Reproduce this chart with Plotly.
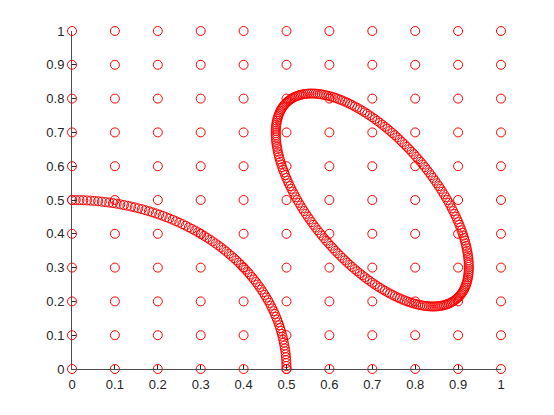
import plotly.graph_objects as go

# Regular grid of sample points (tick values)
grid_vals = [0, 0.1, 0.2, 0.3, 0.4, 0.5, 0.6, 0.7, 0.8, 0.9, 1.0]
tick_vals = [0, 0.1, 0.2, 0.3, 0.4, 0.5, 0.6, 0.7, 0.8, 0.9, 1.0]
tick_text = ["0", "0.1", "0.2", "0.3", "0.4", "0.5", "0.6", "0.7", "0.8", "0.9", "1"]

# Quarter-circle arc points
arc_x = [0.5000, 0.4999, 0.4997, 0.4993, 0.4988, 0.4981, 0.4973, 0.4963, 0.4951, 0.4938,
         0.4924, 0.4908, 0.4891, 0.4872, 0.4851, 0.4830, 0.4806, 0.4782, 0.4755, 0.4728,
         0.4698, 0.4668, 0.4636, 0.4603, 0.4568, 0.4532, 0.4494, 0.4455, 0.4415, 0.4373,
         0.4330, 0.4286, 0.4240, 0.4193, 0.4145, 0.4096, 0.4045, 0.3993, 0.3940, 0.3886,
         0.3830, 0.3774, 0.3716, 0.3657, 0.3597, 0.3536, 0.3473, 0.3410, 0.3346, 0.3280,
         0.3214, 0.3147, 0.3078, 0.3009, 0.2939, 0.2868, 0.2796, 0.2723, 0.2650, 0.2575,
         0.2500, 0.2424, 0.2347, 0.2270, 0.2192, 0.2113, 0.2034, 0.1954, 0.1873, 0.1792,
         0.1710, 0.1628, 0.1545, 0.1462, 0.1378, 0.1294, 0.1210, 0.1125, 0.1040, 0.0954,
         0.0868, 0.0782, 0.0696, 0.0609, 0.0523, 0.0436, 0.0349, 0.0262, 0.0175, 0.0087,
         0.0000]
arc_y = [0.0000, 0.0087, 0.0175, 0.0262, 0.0349, 0.0436, 0.0523, 0.0609, 0.0696, 0.0782,
         0.0868, 0.0954, 0.1040, 0.1125, 0.1210, 0.1294, 0.1378, 0.1462, 0.1545, 0.1628,
         0.1710, 0.1792, 0.1873, 0.1954, 0.2034, 0.2113, 0.2192, 0.2270, 0.2347, 0.2424,
         0.2500, 0.2575, 0.2650, 0.2723, 0.2796, 0.2868, 0.2939, 0.3009, 0.3078, 0.3147,
         0.3214, 0.3280, 0.3346, 0.3410, 0.3473, 0.3536, 0.3597, 0.3657, 0.3716, 0.3774,
         0.3830, 0.3886, 0.3940, 0.3993, 0.4045, 0.4096, 0.4145, 0.4193, 0.4240, 0.4286,
         0.4330, 0.4373, 0.4415, 0.4455, 0.4494, 0.4532, 0.4568, 0.4603, 0.4636, 0.4668,
         0.4698, 0.4728, 0.4755, 0.4782, 0.4806, 0.4830, 0.4851, 0.4872, 0.4891, 0.4908,
         0.4924, 0.4938, 0.4951, 0.4963, 0.4973, 0.4981, 0.4988, 0.4993, 0.4997, 0.4999,
         0.5000]

# Tilted ellipse points
ell_x = [0.9250, 0.9247, 0.9238, 0.9222, 0.9201, 0.9173, 0.9140, 0.9101, 0.9055, 0.9005,
         0.8949, 0.8887, 0.8820, 0.8748, 0.8672, 0.8591, 0.8505, 0.8416, 0.8323, 0.8225,
         0.8125, 0.8022, 0.7915, 0.7806, 0.7695, 0.7582, 0.7468, 0.7352, 0.7235, 0.7118,
         0.7000, 0.6882, 0.6765, 0.6648, 0.6532, 0.6418, 0.6305, 0.6194, 0.6085, 0.5978,
         0.5875, 0.5775, 0.5677, 0.5584, 0.5495, 0.5409, 0.5328, 0.5252, 0.5180, 0.5113,
         0.5051, 0.4995, 0.4945, 0.4899, 0.4860, 0.4827, 0.4799, 0.4778, 0.4762, 0.4753,
         0.4750, 0.4753, 0.4762, 0.4778, 0.4799, 0.4827, 0.4860, 0.4899, 0.4945, 0.4995,
         0.5051, 0.5113, 0.5180, 0.5252, 0.5328, 0.5409, 0.5495, 0.5584, 0.5677, 0.5775,
         0.5875, 0.5978, 0.6085, 0.6194, 0.6305, 0.6418, 0.6532, 0.6648, 0.6765, 0.6882,
         0.7000, 0.7118, 0.7235, 0.7352, 0.7468, 0.7582, 0.7695, 0.7806, 0.7915, 0.8022,
         0.8125, 0.8225, 0.8323, 0.8416, 0.8505, 0.8591, 0.8672, 0.8748, 0.8820, 0.8887,
         0.8949, 0.9005, 0.9055, 0.9101, 0.9140, 0.9173, 0.9201, 0.9222, 0.9238, 0.9247,
         0.9249, 0.9243, 0.9231, 0.9212, 0.9188, 0.9157, 0.9121, 0.9079, 0.9031, 0.8977,
         0.8918, 0.8854, 0.8785, 0.8711, 0.8632, 0.8549, 0.8461, 0.8370, 0.8274, 0.8176,
         0.8074, 0.7969, 0.7861, 0.7751, 0.7639, 0.7525, 0.7410, 0.7294, 0.7177, 0.7059,
         0.6941, 0.6823, 0.6706, 0.6590, 0.6475, 0.6361, 0.6249, 0.6139, 0.6031, 0.5926,
         0.5824, 0.5726, 0.5630, 0.5539, 0.5451, 0.5368, 0.5289, 0.5215, 0.5146, 0.5082,
         0.5023, 0.4969, 0.4921, 0.4879, 0.4843, 0.4812, 0.4788, 0.4769, 0.4757, 0.4751,
         0.4751, 0.4757, 0.4769, 0.4788, 0.4812, 0.4843, 0.4879, 0.4921, 0.4969, 0.5023,
         0.5082, 0.5146, 0.5215, 0.5289, 0.5368, 0.5451, 0.5539, 0.5630, 0.5726, 0.5824,
         0.5926, 0.6031, 0.6139, 0.6249, 0.6361, 0.6475, 0.6590, 0.6706, 0.6823, 0.6941,
         0.7059, 0.7177, 0.7294, 0.7410, 0.7525, 0.7639, 0.7751, 0.7861, 0.7969, 0.8074,
         0.8176, 0.8274, 0.8370, 0.8461, 0.8549, 0.8632, 0.8711, 0.8785, 0.8854, 0.8918,
         0.8977, 0.9031, 0.9079, 0.9121, 0.9157, 0.9188, 0.9212, 0.9231, 0.9243, 0.9249]
ell_y = [0.3018, 0.3148, 0.3285, 0.3425, 0.3570, 0.3719, 0.3871, 0.4027, 0.4185, 0.4345,
         0.4507, 0.4671, 0.4835, 0.5000, 0.5165, 0.5329, 0.5493, 0.5655, 0.5815, 0.5973,
         0.6129, 0.6281, 0.6430, 0.6575, 0.6715, 0.6852, 0.6982, 0.7108, 0.7227, 0.7341,
         0.7448, 0.7548, 0.7642, 0.7728, 0.7807, 0.7878, 0.7941, 0.7996, 0.8043, 0.8081,
         0.8111, 0.8133, 0.8146, 0.8150, 0.8146, 0.8133, 0.8111, 0.8081, 0.8043, 0.7996,
         0.7941, 0.7878, 0.7807, 0.7728, 0.7642, 0.7548, 0.7448, 0.7341, 0.7227, 0.7108,
         0.6982, 0.6852, 0.6715, 0.6575, 0.6430, 0.6281, 0.6129, 0.5973, 0.5815, 0.5655,
         0.5493, 0.5329, 0.5165, 0.5000, 0.4835, 0.4671, 0.4507, 0.4345, 0.4185, 0.4027,
         0.3871, 0.3719, 0.3570, 0.3425, 0.3285, 0.3148, 0.3018, 0.2892, 0.2773, 0.2659,
         0.2552, 0.2452, 0.2358, 0.2272, 0.2193, 0.2122, 0.2059, 0.2004, 0.1957, 0.1919,
         0.1889, 0.1867, 0.1854, 0.1850, 0.1854, 0.1867, 0.1889, 0.1919, 0.1957, 0.2004,
         0.2059, 0.2122, 0.2193, 0.2272, 0.2358, 0.2452, 0.2552, 0.2659, 0.2773, 0.2892,
         0.3082, 0.3216, 0.3354, 0.3497, 0.3644, 0.3795, 0.3948, 0.4105, 0.4265, 0.4426,
         0.4589, 0.4753, 0.4918, 0.5082, 0.5247, 0.5411, 0.5574, 0.5735, 0.5895, 0.6052,
         0.6205, 0.6356, 0.6503, 0.6646, 0.6784, 0.6918, 0.7046, 0.7168, 0.7285, 0.7395,
         0.7499, 0.7596, 0.7686, 0.7768, 0.7843, 0.7910, 0.7969, 0.8020, 0.8063, 0.8097,
         0.8123, 0.8140, 0.8149, 0.8149, 0.8140, 0.8123, 0.8097, 0.8063, 0.8020, 0.7969,
         0.7910, 0.7843, 0.7768, 0.7686, 0.7596, 0.7499, 0.7395, 0.7285, 0.7168, 0.7046,
         0.6918, 0.6784, 0.6646, 0.6503, 0.6356, 0.6205, 0.6052, 0.5895, 0.5735, 0.5574,
         0.5411, 0.5247, 0.5082, 0.4918, 0.4753, 0.4589, 0.4426, 0.4265, 0.4105, 0.3948,
         0.3795, 0.3644, 0.3497, 0.3354, 0.3216, 0.3082, 0.2954, 0.2832, 0.2715, 0.2605,
         0.2501, 0.2404, 0.2314, 0.2232, 0.2157, 0.2090, 0.2031, 0.1980, 0.1937, 0.1903,
         0.1877, 0.1860, 0.1851, 0.1851, 0.1860, 0.1877, 0.1903, 0.1937, 0.1980, 0.2031,
         0.2090, 0.2157, 0.2232, 0.2314, 0.2404, 0.2501, 0.2605, 0.2715, 0.2832, 0.2954]

grid_x = [gx for gx in grid_vals for gy in grid_vals]
grid_y = [gy for gx in grid_vals for gy in grid_vals]

marker = dict(symbol="circle-open", size=9, color="#ff0000", line=dict(width=1, color="#ff0000"))

fig = go.Figure()
for xs, ys in [(grid_x, grid_y), (arc_x, arc_y), (ell_x, ell_y)]:
    fig.add_trace(go.Scatter(x=xs, y=ys, mode="markers", marker=marker,
                             cliponaxis=False, showlegend=False, hoverinfo="skip"))

axis_common = dict(
    range=[0, 1], tickvals=tick_vals, ticktext=tick_text,
    ticks="inside", ticklen=4, tickwidth=1, tickcolor="#262626",
    showline=True, linecolor="#4d4d4d", linewidth=1,
    showgrid=False, zeroline=False, mirror=False,
    tickfont=dict(family="Liberation Sans, Arial, sans-serif", size=13, color="#262626"),
)

fig.update_layout(
    width=554, height=415,
    margin=dict(l=72, r=53, t=31, b=46, pad=0),
    paper_bgcolor="white", plot_bgcolor="white",
    xaxis=dict(axis_common, ticklabelstandoff=3),
    yaxis=dict(axis_common, ticklabelstandoff=4),
)

fig.write_html("out.html", config={"displayModeBar": False},
               post_script="document.body.style.margin='0';document.body.style.padding='0';")
